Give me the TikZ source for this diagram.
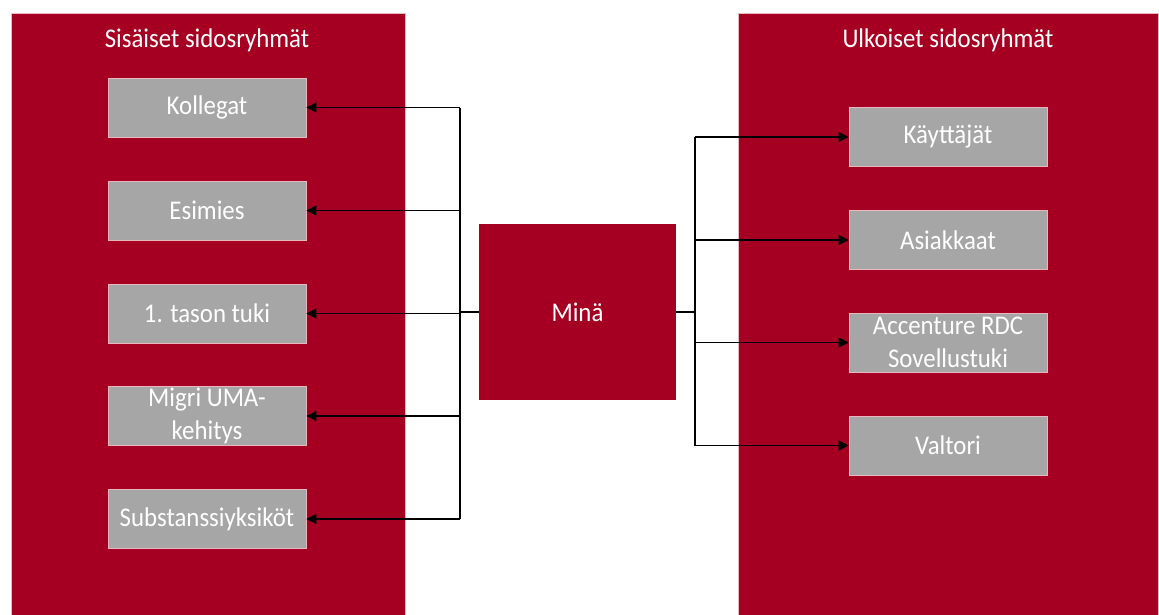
\documentclass[tikz,border=0pt]{standalone}
\usepackage{fontspec}
\setmainfont{Carlito}[FakeStretch=0.92]
\usetikzlibrary{arrows.meta}
\definecolor{panelred}{HTML}{A50021}
\definecolor{boxgray}{HTML}{A6A6A6}
\definecolor{edgepink}{HTML}{E8B8C0}
\tikzset{
  panel/.style={fill=panelred, draw=edgepink, line width=0.6pt},
  item/.style={fill=boxgray, draw=edgepink, line width=0.8pt, minimum width=198pt,
    minimum height=59pt, text=white, align=center, font=\fontsize{27}{33}\selectfont,
    inner sep=0pt},
  title/.style={text=white, font=\fontsize{27}{33}\selectfont, inner sep=0pt},
  link/.style={line width=1.3pt, black},
  tip/.style={link, -{Triangle[length=10pt,width=10pt]}}
}
\begin{document}
\begin{tikzpicture}[x=1pt,y=-1pt]
\useasboundingbox (0,0) rectangle (1159,614);
\fill[white] (0,0) rectangle (1159,614);
% the two stakeholder panels
\draw[panel] (11,13) rectangle (405,616);
\draw[panel] (738,13) rectangle (1158,616);
\node[title] (tin) at (207,40) {Sisäiset sidosryhmät};
\node[title] (tout) at (948,40) {Ulkoiset sidosryhmät};
% centre
\node[fill=panelred, minimum width=197pt, minimum height=176pt, inner sep=0pt,
  text=white, font=\fontsize{27}{33}\selectfont] (me) at (577.5,312) {Minä};
% internal stakeholders
\node[item] (k1) at (207,107.5) {Kollegat};
\node[item] (k2) at (207,210.5) {Esimies};
\node[item] (k3) at (207,313.5) {1. tason tuki};
\node[item] (k4) at (207,416) {Migri UMA-\\kehitys};
\node[item] (k5) at (207,519) {Substanssiyksiköt};
% external stakeholders
\node[item] (u1) at (948,137) {Käyttäjät};
\node[item] (u2) at (948,240) {Asiakkaat};
\node[item] (u3) at (948,342.5) {Accenture RDC\\Sovellustuki};
\node[item] (u4) at (948,445.5) {Valtori};
% bus lines
\coordinate (lbus) at (460,312);
\coordinate (rbus) at (695,312);
\draw[link] (me.west) -- (lbus);
\draw[link] (me.east) -- (rbus);
\draw[link] (lbus |- k1) -- (lbus |- k5);
\draw[link] (rbus |- u1) -- (rbus |- u4);
\foreach \n in {k1,k2,k3,k4,k5}
  \draw[tip] (lbus |- \n) -- (\n.east);
\foreach \n in {u1,u2,u3,u4}
  \draw[tip] (rbus |- \n) -- (\n.west);
\end{tikzpicture}
\end{document}
